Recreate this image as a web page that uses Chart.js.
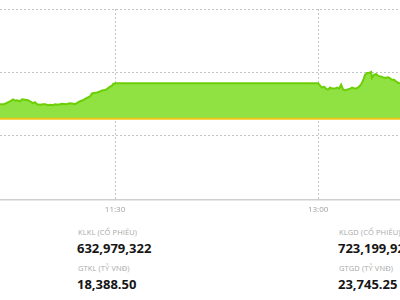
<!DOCTYPE html>
<html>
<head>
<meta charset="utf-8">
<script src="https://cdn.jsdelivr.net/npm/chart.js@4.4.1/dist/chart.umd.min.js"></script>
<style>
  html, body { margin: 0; padding: 0; background: #fff; width: 400px; height: 300px; overflow: hidden; }
  #wrap { position: absolute; left: 0; top: 0; width: 400px; height: 225px; }
  .stat { position: absolute; font-family: "Open Sans", sans-serif; white-space: nowrap; }
  .lbl { font-size: 7.5px; color: #a8a8a8; text-transform: uppercase; letter-spacing: 0.1px; }
  .num { font-size: 13px; font-weight: 700; color: #161616; letter-spacing: 0; }
</style>
</head>
<body>
<div id="wrap"><canvas id="c"></canvas></div>

<div class="stat lbl" style="left:78px; top:227px;">KLKL (CỔ PHIẾU)</div>
<div class="stat num" style="left:77px; top:239px;">632,979,322</div>
<div class="stat lbl" style="left:78px; top:263px;">GTKL (TỶ VNĐ)</div>
<div class="stat num" style="left:77px; top:275px;">18,388.50</div>

<div class="stat lbl" style="left:339px; top:227px;">KLGD (CỔ PHIẾU)</div>
<div class="stat num" style="left:338px; top:239px;">723,199,92</div>
<div class="stat lbl" style="left:339px; top:263px;">GTGD (TỶ VNĐ)</div>
<div class="stat num" style="left:338px; top:275px;">23,745.25</div>

<script>
// minutes after 09:00
const times = [99.0,100.8,102.5,103.4,104.8,105.7,106.5,107.9,108.8,110.1,111.4,112.3,113.6,114.5,115.4,116.7,118.1,119.0,120.3,121.2,122.5,123.4,124.7,126.5,128.3,130.0,131.4,132.3,133.6,134.5,135.8,136.7,138.0,138.9,139.8,140.7,142.0,143.3,144.2,145.6,146.4,147.8,148.7,149.1,150.0,
  240.0,240.9,241.8,242.6,243.5,244.4,245.3,246.2,247.5,248.4,249.3,250.2,251.1,252.0,252.8,254.2,255.1,256.4,257.7,259.0,259.9,260.8,261.7,262.6,263.5,263.9,264.8,265.7,266.6,267.5,268.4,269.2,270.1,271.0,271.9,272.8,273.7,274.6,275.5,276.3];
const index = [1247.50,1247.50,1247.65,1247.73,1247.88,1247.77,1247.81,1247.73,1247.88,1247.85,1247.81,1247.73,1247.58,1247.65,1247.50,1247.46,1247.50,1247.50,1247.42,1247.46,1247.42,1247.50,1247.46,1247.54,1247.50,1247.58,1247.54,1247.50,1247.65,1247.73,1247.81,1247.92,1248.04,1248.12,1248.35,1248.38,1248.42,1248.50,1248.58,1248.62,1248.69,1248.88,1248.96,1249.08,1249.15,
  1249.15,1248.96,1248.81,1248.88,1248.73,1248.65,1248.81,1248.73,1248.73,1248.81,1248.73,1249.04,1248.65,1248.58,1248.65,1248.73,1248.81,1248.73,1248.81,1249.04,1249.35,1249.81,1249.96,1249.96,1250.04,1249.58,1249.81,1249.88,1249.73,1249.69,1249.65,1249.58,1249.58,1249.62,1249.54,1249.42,1249.42,1249.27,1249.19,1249.12];
const referenceValue = 1246.35;
const tickLabels = ["11:30", "13:00"];
const xRange = [99.0, 276.3];
const yRange = [1240, 1255];

const toMin = s => { const [h, m] = s.split(":").map(Number); return (h - 9) * 60 + m; };
const toLabel = v => { const t = Math.round(v) + 540; const h = Math.floor(t / 60), m = t % 60; return h + ":" + String(m).padStart(2, "0"); };

const pts = times.map((t, i) => ({ x: t, y: index[i] }));
const refPts = [{ x: xRange[0], y: referenceValue }, { x: xRange[1], y: referenceValue }];

new Chart(document.getElementById("c"), {
  type: "line",
  data: {
    datasets: [
      {
        data: pts,
        borderColor: "#6ccf06",
        backgroundColor: "#90e142",
        borderWidth: 2,
        pointRadius: 0,
        tension: 0,
        fill: { value: referenceValue },
        order: 2
      },
      {
        data: refPts,
        borderColor: "#f0c419",
        borderWidth: 2,
        pointRadius: 0,
        fill: false,
        order: 1
      }
    ]
  },
  options: {
    responsive: true,
    maintainAspectRatio: false,
    animation: false,
    layout: { padding: { top: 9, left: 0, right: 0, bottom: 4 } },
    plugins: { legend: { display: false }, tooltip: { enabled: false } },
    scales: {
      x: {
        type: "linear",
        min: xRange[0],
        max: xRange[1],
        afterBuildTicks: s => { s.ticks = tickLabels.map(l => ({ value: toMin(l) })); },
        ticks: {
          callback: v => toLabel(v),
          color: "#a0a0a0",
          font: { family: "Open Sans", size: 8 },
          padding: 6,
          maxRotation: 0,
          autoSkip: false
        },
        grid: { color: "#c4c4c4", drawTicks: false, lineWidth: 1 },
        border: { display: true, color: "#cfcfcf", width: 1.5, dash: [2, 2] }
      },
      y: {
        min: yRange[0],
        max: yRange[1],
        ticks: { display: false, stepSize: 5 },
        grid: {
          color: c => (c.tick && c.tick.value === yRange[0]) ? "rgba(0,0,0,0)" : "#c4c4c4",
          drawTicks: false,
          lineWidth: 1
        },
        border: { display: false, dash: [2, 2] }
      }
    }
  }
});
</script>
</body>
</html>
